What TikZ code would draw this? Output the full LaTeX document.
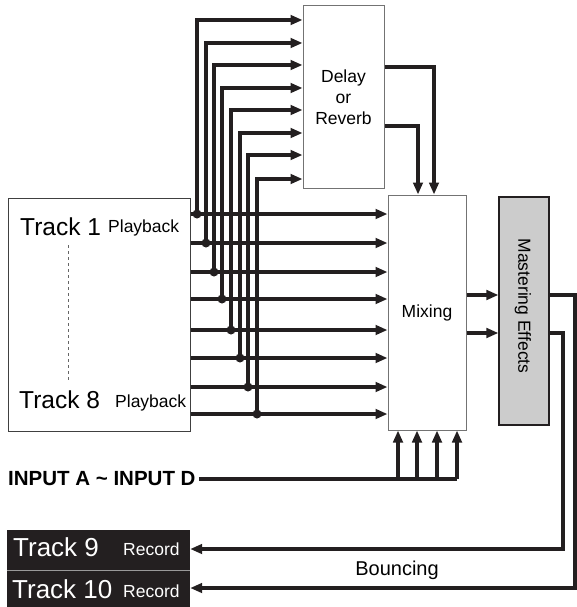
\documentclass[tikz,border=0pt]{standalone}
\usepackage{fontspec}
\setmainfont{Liberation Sans}
\usetikzlibrary{arrows.meta, positioning, calc}
\definecolor{ink}{RGB}{35, 31, 32}
\definecolor{panelgray}{RGB}{204, 204, 204}

\begin{document}
\begin{tikzpicture}[x=1pt, y=-1pt,
  sig/.style={draw=ink, line width=3.4pt, -{Triangle[length=12pt, width=9.5pt]}},
  wire/.style={draw=ink, line width=3.4pt},
  unitbox/.style={draw=black!55, line width=1pt, inner sep=0pt},
  recbox/.style={fill=ink, inner sep=0pt, minimum width=183pt, minimum height=40pt},
  lbl/.style={inner sep=0pt, anchor=base west}
]
  \useasboundingbox (0,0) rectangle (576,607);

  % boxes
  \node[unitbox, draw=black!75, minimum width=182pt, minimum height=233pt] (tracks) at (99,314.5) {};
  \node[unitbox, minimum width=81pt, minimum height=182pt, align=center,
        font=\fontsize{17.5}{21}\selectfont] (delay) at (343.5,97) {Delay\\or\\Reverb};
  \node[unitbox, minimum width=78pt, minimum height=235pt,
        font=\fontsize{17.5}{21}\selectfont] (mix) at (427,312.5) {Mixing};
  \node[draw=ink, fill=panelgray, line width=1.2pt, inner sep=0pt,
        minimum width=50pt, minimum height=228pt] (master) at (524,311) {};
  \node[rotate=-90, inner sep=0pt, font=\fontsize{17.5}{21}\selectfont] (mastertxt) at (523,306) {Mastering Effects};
  \node[recbox] (track9) at (98.5,550) {};
  \node[recbox] (track10) at (98.5,590) {};
  \draw[black!40, line width=1pt] (track9.south west) -- (track9.south east);

  % track labels
  \node[lbl, font=\fontsize{24.5}{24}\selectfont] (t1) at (20,235) {Track 1};
  \node[lbl, font=\fontsize{17.5}{17}\selectfont] (t1play) at (108,232) {Playback};
  \node[lbl, font=\fontsize{24.5}{24}\selectfont] (t8) at (19,408) {Track 8};
  \node[lbl, font=\fontsize{17.5}{17}\selectfont] (t8play) at (115,407) {Playback};
  \draw[black!60, dashed, line width=1pt] (68,245) -- (68,382);
  \node[lbl, text=white, font=\fontsize{26}{26}\selectfont] (t9) at (13,556) {Track 9};
  \node[lbl, text=white, font=\fontsize{17.5}{17}\selectfont] (t9rec) at (123,555) {Record};
  \node[lbl, text=white, font=\fontsize{26}{26}\selectfont] (t10) at (12,598) {Track 10};
  \node[lbl, text=white, font=\fontsize{17.5}{17}\selectfont] (t10rec) at (123,597) {Record};

  % playback to mixer and delay sends
  \foreach \i/\ry/\vx/\dy in {1/214/197/20, 2/243/206/43, 3/272/214/65, 4/299/222/88,
                             5/330/231/110, 6/358/240/133, 7/387/248/155, 8/414/257/179} {
    \coordinate (j\i) at (\vx,\ry);
    \coordinate (k\i) at (\vx,\dy);
    \draw[sig] (tracks.east |- j\i) -- (mix.west |- j\i);
    \draw[sig] (j\i) -- (k\i) -- (delay.west |- k\i);
    \fill[ink] (j\i) circle (4.5pt);
  }

  % delay returns
  \coordinate (ret1) at (434,67);
  \coordinate (ret2) at (418,126);
  \draw[sig] (delay.east |- ret1) -| (mix.north -| ret1);
  \draw[sig] (delay.east |- ret2) -| (mix.north -| ret2);

  % mixer to mastering
  \coordinate (mo1) at (0,295);
  \coordinate (mo2) at (0,333);
  \draw[sig] (mix.east |- mo1) -- (master.west |- mo1);
  \draw[sig] (mix.east |- mo2) -- (master.west |- mo2);

  % bouncing
  \coordinate (bn1) at (575,588);
  \coordinate (bn2) at (563,549);
  \draw[sig] (master.east |- mo1) -| (bn1) -- (track10.east |- bn1);
  \draw[sig] (master.east |- mo2) -| (bn2) -- (track9.east |- bn2);
  \node[inner sep=0pt, anchor=base, font=\fontsize{20}{20}\selectfont] (bounce) at (397,575) {Bouncing};

  % external inputs
  \node[inner sep=0pt, anchor=west, font=\bfseries\fontsize{20.5}{20}\selectfont] (inp) at (8,479) {INPUT A \textasciitilde{} INPUT D};
  \coordinate (in1) at (398,479);
  \coordinate (in2) at (417,479);
  \coordinate (in3) at (437,479);
  \coordinate (in4) at (457,479);
  \draw[wire] ([xshift=3pt]inp.east) -- (in4);
  \foreach \j in {1,...,4} {
    \draw[sig] (in\j) -- (mix.south -| in\j);
  }
\end{tikzpicture}
\end{document}
